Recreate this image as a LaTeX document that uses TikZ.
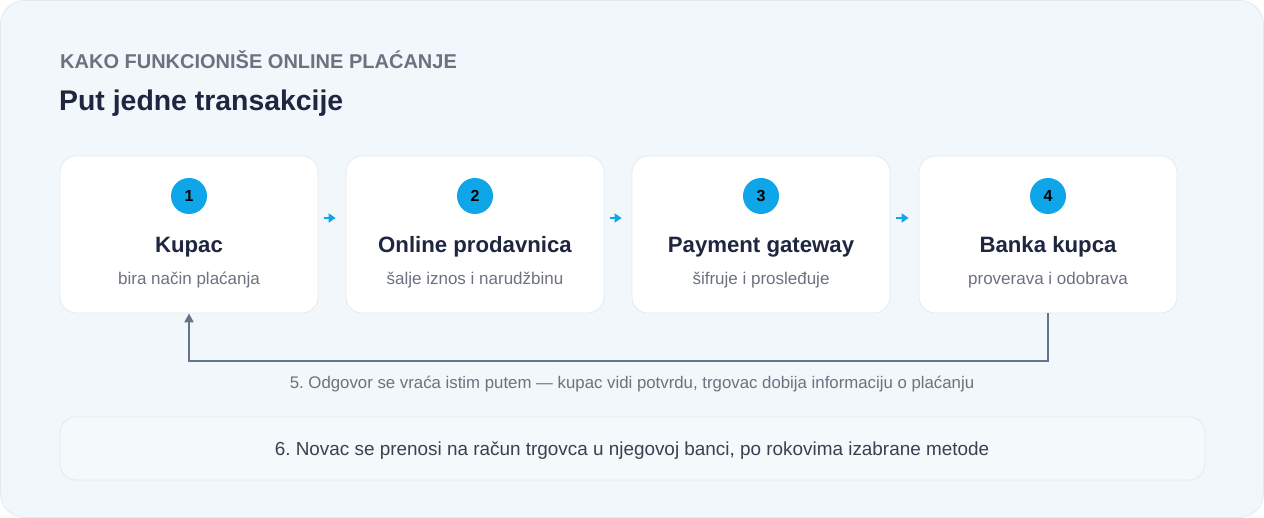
\documentclass[tikz,border=0pt]{standalone}
\usepackage{fontspec}
\setmainfont{Liberation Sans}
\frenchspacing
\usetikzlibrary{arrows.meta}
\definecolor{bgpanel}{HTML}{F1F7FB}
\definecolor{panelline}{HTML}{E3E9EF}
\definecolor{kicker}{HTML}{6B7280}
\definecolor{navy}{HTML}{1E2640}
\definecolor{sky}{HTML}{0EA5E9}
\definecolor{subgray}{HTML}{6B7280}
\definecolor{loopgray}{HTML}{64748B}
\definecolor{notefill}{HTML}{F4F9FC}
\definecolor{notetext}{HTML}{374151}
\tikzset{
	stepcard/.style={draw=panelline,fill=white,rounded corners=16pt,minimum width=258pt,minimum height=157pt,inner sep=0pt,line width=0.8pt},
	badge/.style={circle,fill=sky,minimum size=36pt,inner sep=0pt,font=\bfseries\fontsize{16}{18}\selectfont,text=black},
	cardtitle/.style={font=\bfseries\fontsize{22.2}{26}\selectfont,text=navy},
	cardsub/.style={font=\fontsize{17}{20}\selectfont,text=subgray},
	flow/.style={draw=sky,line width=1.8pt,-{Triangle[length=7pt,width=9pt]}},
}
\begin{document}
\begin{tikzpicture}[x=1pt,y=-1pt]
	\useasboundingbox(0,0)rectangle(1264,518);
	\draw[fill=bgpanel,draw=panelline,rounded corners=24pt,line width=0.8pt](0.5,0.5)rectangle(1263.5,517.5);
	\node[anchor=base west,inner sep=0pt,font=\bfseries\fontsize{20}{24}\selectfont,text=kicker](kicker)at(60,69){KAKO FUNKCIONIŠE ONLINE PLAĆANJE};
	\node[anchor=base west,inner sep=0pt,font=\bfseries\fontsize{28.4}{32}\selectfont,text=navy](heading)at(59,111){Put jedne transakcije};
	\foreach \i/\x/\t/\s in {1/189/Kupac/bira način plaćanja,2/475/Online prodavnica/šalje iznos i narudžbinu,3/761/Payment gateway/šifruje i prosleđuje,4/1048/Banka kupca/proverava i odobrava}{
		\node[stepcard](card\i)at(\x,234.5){};
		\node[badge](badge\i)at(\x,196){\i};
		\node[cardtitle,anchor=base](title\i)at(\x,253){\t};
		\node[cardsub,anchor=base](sub\i)at(\x,285){\s};
	}
	\draw[flow]([xshift=6pt,yshift=16.5pt]card1.east)--([xshift=-10pt,yshift=16.5pt]card2.west);
	\draw[flow]([xshift=6pt,yshift=16.5pt]card2.east)--([xshift=-10pt,yshift=16.5pt]card3.west);
	\draw[flow]([xshift=6pt,yshift=16.5pt]card3.east)--([xshift=-10pt,yshift=16.5pt]card4.west);
	% povratni put odgovora
	\draw[draw=loopgray,line width=2pt,-{Triangle[length=9pt,width=9pt]}](card4.south)--++(0,48)-|(card1.south);
	\node[anchor=base,font=\fontsize{16.8}{20}\selectfont,text=subgray](reply)at(632,389){5. Odgovor se vraća istim putem — kupac vidi potvrdu, trgovac dobija informaciju o plaćanju};
	\draw[fill=notefill,draw=panelline,rounded corners=16pt,line width=0.8pt](60,417)rectangle(1205,480);
	\node[font=\fontsize{18.9}{22}\selectfont,text=notetext](note)at(632,451){6. Novac se prenosi na račun trgovca u njegovoj banci, po rokovima izabrane metode};
\end{tikzpicture}
\end{document}
